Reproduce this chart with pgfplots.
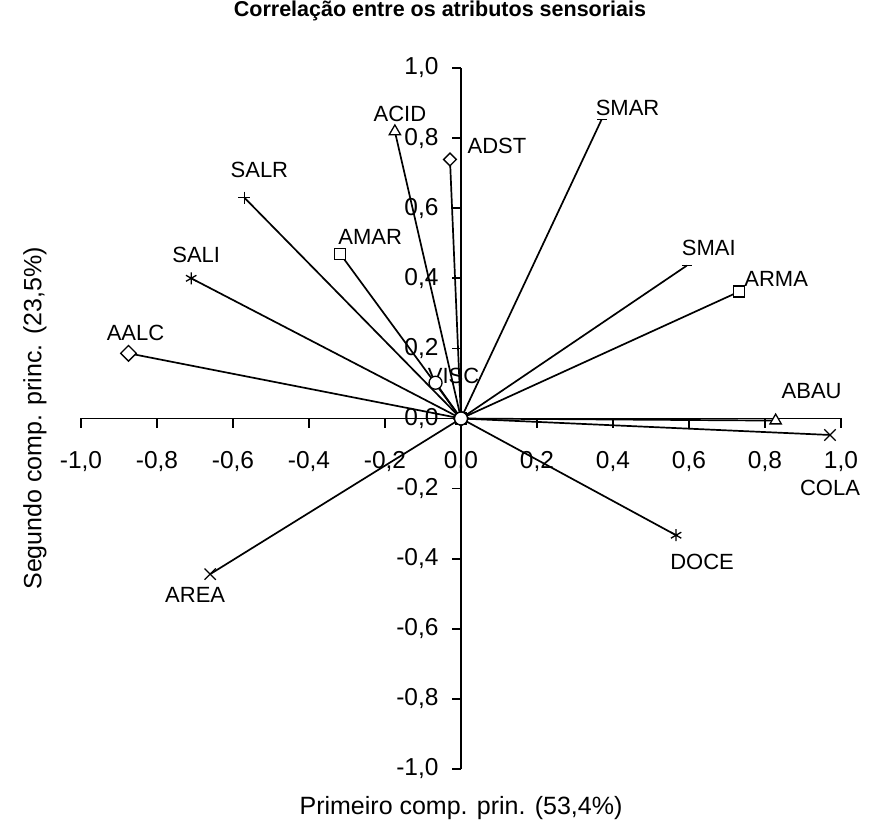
\documentclass[border=0pt]{standalone}
\usepackage{fontspec}
\setmainfont{Liberation Sans}
\usepackage{pgfplots}
\pgfplotsset{compat=1.18}
\newcommand\lab{\fontsize{22}{26}\selectfont}
\pgfplotsset{wm/.style={mark options={solid, fill=white, line width=1.3pt, #1}}, wm/.default={}}
\begin{document}
\begin{tikzpicture}
\useasboundingbox (-81pt,-66pt) rectangle (796pt,769pt);
\begin{axis}[
  at={(0pt,0pt)}, anchor=south west,
  scale only axis, width=760pt, height=701pt,
  xmin=-1, xmax=1, ymin=-1, ymax=1,
  axis lines=middle,
  axis line style={line width=1.6pt, -},
  tick style={line width=1.6pt, black},
  tick align=outside,
  major tick length=9pt,
  xtick={-1,-0.8,-0.6,-0.4,-0.2,0,0.2,0.4,0.6,0.8,1},
  ytick={-1,-0.8,-0.6,-0.4,-0.2,0,0.2,0.4,0.6,0.8,1},
  hide obscured x ticks=false, hide obscured y ticks=false,
  /pgf/number format/.cd, use comma, fixed, fixed zerofill, precision=1, assume math mode=true,
  /pgfplots/.cd,
  ticklabel style={font=\fontsize{24.5}{28}\selectfont},
  xticklabel style={yshift=-20pt},
  yticklabel style={xshift=-10pt},
  xlabel={Primeiro comp. prin. (53,4\%)},
  ylabel={Segundo comp. princ. (23,5\%)},
  xlabel style={at={(axis description cs:0.5,0)}, anchor=center, yshift=-39pt, font=\fontsize{25}{30}\selectfont},
  ylabel style={at={(axis description cs:0,0.5)}, anchor=center, xshift=-46pt, rotate=90, font=\fontsize{25}{30}\selectfont},
  title={Correlação entre os atributos sensoriais},
  title style={at={(axis description cs:0.5,1)}, anchor=center, xshift=-21pt, yshift=51pt, font=\fontsize{21.5}{25}\selectfont\bfseries},
  every axis plot/.append style={black, line width=1.7pt},
  clip=false,
]
\addplot[mark=asterisk, mark size=6pt, wm] coordinates {(0,0) (-0.71,0.40)} node[pos=1, xshift=5pt, yshift=23pt, font=\lab] {SALI};
\addplot[mark=+, mark size=6pt, wm] coordinates {(0,0) (-0.57,0.63)} node[pos=1, xshift=15pt, yshift=28pt, font=\lab] {SALR};
\addplot[mark=square*, mark size=5.5pt, wm={rotate=45}] coordinates {(0,0) (-0.875,0.186)} node[pos=1, xshift=7pt, yshift=20pt, font=\lab] {AALC};
\addplot[mark=x, mark size=8pt, wm] coordinates {(0,0) (-0.66,-0.444)} node[pos=1, xshift=-15pt, yshift=-21pt, font=\lab] {AREA};
\addplot[mark=asterisk, mark size=6pt, wm] coordinates {(0,0) (0.566,-0.333)} node[pos=1, xshift=26pt, yshift=-27pt, font=\lab] {DOCE};
\addplot[mark=x, mark size=8pt, wm] coordinates {(0,0) (0.971,-0.047)} node[pos=1, xshift=0pt, yshift=-53pt, font=\lab] {COLA};
\addplot[mark=-, mark size=5pt, wm] coordinates {(0,0) (0.594,0.436)} node[pos=1, xshift=22pt, yshift=18pt, font=\lab] {SMAI};
\addplot[mark=-, mark size=5pt, wm] coordinates {(0,0) (0.37,0.853)} node[pos=1, xshift=26pt, yshift=12pt, font=\lab] {SMAR};
\addplot[mark=square*, mark size=5.5pt, wm] coordinates {(0,0) (0.732,0.362)} node[pos=1, xshift=37pt, yshift=13pt, font=\lab] {ARMA};
\addplot[mark=square*, mark size=5.5pt, wm] coordinates {(0,0) (-0.318,0.47)} node[pos=1, xshift=30pt, yshift=17pt, font=\lab] {AMAR};
\addplot[mark=square*, mark size=4.5pt, wm={rotate=45}] coordinates {(0,0) (-0.029,0.739)} node[pos=1, xshift=47pt, yshift=14pt, font=\lab] {ADST};
\addplot[mark=triangle*, mark size=6.5pt, wm] coordinates {(0,0) (-0.174,0.819)} node[pos=1, xshift=5pt, yshift=18pt, font=\lab] {ACID};
\addplot[mark=triangle*, mark size=6.5pt, wm] coordinates {(0,0) (0.828,-0.006)} node[pos=1, xshift=36pt, yshift=30pt, font=\lab] {ABAU};
\addplot[mark=*, mark size=6.5pt, wm] coordinates {(0,0) (-0.067,0.102)} node[pos=1, xshift=18pt, yshift=7pt, font=\lab] {VISC};
\end{axis}
\end{tikzpicture}
\end{document}
